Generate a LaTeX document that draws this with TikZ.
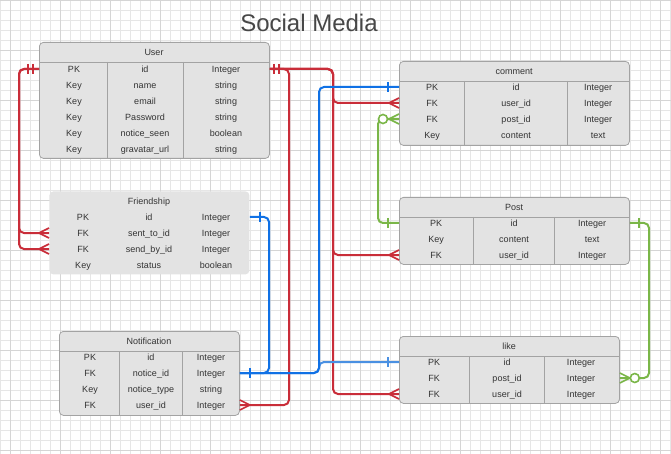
\documentclass[tikz,border=0pt]{standalone}
\usepackage{fontspec}
\setmainfont{Liberation Sans}
\usetikzlibrary{calc}
\definecolor{relred}{HTML}{C92D39}
\definecolor{relblue}{HTML}{1071E5}
\definecolor{rellight}{HTML}{4A90E2}
\definecolor{relgreen}{HTML}{7AB648}
\definecolor{tblfill}{HTML}{E3E3E3}
\definecolor{tblline}{HTML}{A3A3A3}
\definecolor{txt}{HTML}{333333}
\definecolor{gridminor}{HTML}{E6E6E6}
\definecolor{gridmajor}{HTML}{D5D5D5}

\tikzset{
  tbl/.style={draw=tblline, fill=tblfill, line width=0.8pt, rounded corners=4pt, anchor=north west, inner sep=0pt},
  sepline/.style={draw=tblline, line width=0.8pt},
  cell/.style={text=txt, font=\fontsize{9}{10}\selectfont, inner sep=0pt, text height=6.4pt, text depth=0pt},
  rel/.style={line width=2pt, rounded corners=5pt},
  many/.pic={\draw[line width=1.6pt] (-10,0) -- (0,-5) (-10,0) -- (0,5);},
  one/.pic={\draw[line width=1.6pt] (0,-5) -- (0,5);},
  zero/.pic={\draw[line width=1.6pt, fill=white] (0,0) circle (4.5pt);},
}

\begin{document}
\begin{tikzpicture}[x=1pt, y=-1pt]
    \useasboundingbox (0,0) rectangle (671,454);
    \fill[white] (0,0) rectangle (671,454);

    % background grid
    \foreach \gx in {0,10,...,670} \draw[gridminor, line width=0.6pt] (\gx,0) -- (\gx,454);
    \foreach \gy in {0,10,...,450} \draw[gridminor, line width=0.6pt] (0,\gy) -- (671,\gy);
    \foreach \gx in {10,60,...,660} \draw[gridmajor, line width=0.6pt] (\gx,0) -- (\gx,454);
    \foreach \gy in {0,50,...,450} \draw[gridmajor, line width=0.6pt] (0,\gy) -- (671,\gy);

    % title
    \node[font=\fontsize{24}{28}\selectfont, text=txt!90] (title) at (309,23) {Social Media};

    % User table
    \node[tbl, minimum width=230pt, minimum height=116pt] (user) at (39,42) {};
    \node[cell] (user-head) at (154,52) {User};
    \draw[sepline] (39,62) -- (269,62);
    \draw[sepline] (107,62) -- (107,158) (183,62) -- (183,158);
    \foreach \k/\n/\t [count=\i] in {PK/id/Integer, Key/name/string, Key/email/string,
        Key/Password/string, Key/notice\_seen/boolean, Key/gravatar\_url/string}{
        \node[cell] (user-k\i) at (74,{53+16*\i}) {\k};
        \node[cell] (user-n\i) at (145,{53+16*\i}) {\n};
        \node[cell] (user-t\i) at (226,{53+16*\i}) {\t};
    }

    % Friendship table
    \node[tbl, draw=none, minimum width=200pt, minimum height=83pt] (friend) at (49,191) {};
    \node[cell] (friend-head) at (149,201) {Friendship};
    \foreach \k/\n/\t [count=\i] in {PK/id/Integer, FK/sent\_to\_id/Integer,
        FK/send\_by\_id/Integer, Key/status/boolean}{
        \node[cell] (friend-k\i) at (83,{201+16*\i}) {\k};
        \node[cell] (friend-n\i) at (149,{201+16*\i}) {\n};
        \node[cell] (friend-t\i) at (216,{201+16*\i}) {\t};
    }

    % Notification table
    \node[tbl, minimum width=180pt, minimum height=84pt] (notice) at (59,331) {};
    \node[cell] (notice-head) at (149,341) {Notification};
    \draw[sepline] (59,351) -- (239,351);
    \draw[sepline] (119,351) -- (119,415) (182,351) -- (182,415);
    \foreach \k/\n/\t [count=\i] in {PK/id/Integer, FK/notice\_id/Integer,
        Key/notice\_type/string, FK/user\_id/Integer}{
        \node[cell] (notice-k\i) at (90,{341+16*\i}) {\k};
        \node[cell] (notice-n\i) at (151,{341+16*\i}) {\n};
        \node[cell] (notice-t\i) at (211,{341+16*\i}) {\t};
    }

    % comment table
    \node[tbl, minimum width=230pt, minimum height=84pt] (comment) at (399,61) {};
    \node[cell] (comment-head) at (514,71) {comment};
    \draw[sepline] (399,81) -- (629,81);
    \draw[sepline] (464,81) -- (464,145) (567,81) -- (567,145);
    \foreach \k/\n/\t [count=\i] in {PK/id/Integer, FK/user\_id/Integer,
        FK/post\_id/Integer, Key/content/text}{
        \node[cell] (comment-k\i) at (432,{71+16*\i}) {\k};
        \node[cell] (comment-n\i) at (516,{71+16*\i}) {\n};
        \node[cell] (comment-t\i) at (598,{71+16*\i}) {\t};
    }

    % Post table
    \node[tbl, minimum width=230pt, minimum height=67pt] (post) at (399,197) {};
    \node[cell] (post-head) at (514,207) {Post};
    \draw[sepline] (399,217) -- (629,217);
    \draw[sepline] (473,217) -- (473,264) (554,217) -- (554,264);
    \foreach \k/\n/\t [count=\i] in {PK/id/Integer, Key/content/text, FK/user\_id/Integer}{
        \node[cell] (post-k\i) at (436,{207+16*\i}) {\k};
        \node[cell] (post-n\i) at (514,{207+16*\i}) {\n};
        \node[cell] (post-t\i) at (592,{207+16*\i}) {\t};
    }

    % like table
    \node[tbl, minimum width=220pt, minimum height=67pt] (like) at (399,336) {};
    \node[cell] (like-head) at (509,346) {like};
    \draw[sepline] (399,356) -- (619,356);
    \draw[sepline] (469,356) -- (469,403) (544,356) -- (544,403);
    \foreach \k/\n/\t [count=\i] in {PK/id/Integer, FK/post\_id/Integer, FK/user\_id/Integer}{
        \node[cell] (like-k\i) at (434,{346+16*\i}) {\k};
        \node[cell] (like-n\i) at (507,{346+16*\i}) {\n};
        \node[cell] (like-t\i) at (581,{346+16*\i}) {\t};
    }

    % ports on the table edges
    \coordinate (uL) at (user.west |- user-k1);
    \coordinate (uR) at (user.east |- user-k1);
    \coordinate (fI) at (friend.east |- friend-k1);
    \coordinate (fS) at (friend.west |- friend-k2);
    \coordinate (fB) at (friend.west |- friend-k3);
    \coordinate (nN) at (notice.east |- notice-k2);
    \coordinate (nU) at (notice.east |- notice-k4);
    \coordinate (cI) at (comment.west |- comment-k1);
    \coordinate (cU) at (comment.west |- comment-k2);
    \coordinate (cP) at (comment.west |- comment-k3);
    \coordinate (pIw) at (post.west |- post-k1);
    \coordinate (pIe) at (post.east |- post-k1);
    \coordinate (pU) at (post.west |- post-k3);
    \coordinate (lI) at (like.west |- like-k1);
    \coordinate (lP) at (like.east |- like-k2);
    \coordinate (lU) at (like.west |- like-k3);

    % trunk lines
    \coordinate (xl) at (19,0);
    \coordinate (xa) at (289,0);
    \coordinate (xb) at (333,0);
    \coordinate (xc) at (269,0);
    \coordinate (xd) at (319,0);
    \coordinate (xe) at (378,0);
    \coordinate (xf) at (649,0);

    % User relations
    \draw[rel, relred] (uL) -- (xl |- uL) -- (xl |- fS) -- (fS);
    \draw[rel, relred] (uL) -- (xl |- uL) -- (xl |- fB) -- (fB);
    \draw[rel, relred] (uR) -- (xa |- uR) -- (xa |- nU) -- (nU);
    \draw[rel, relred] (uR) -- (xb |- uR) -- (xb |- lU) -- (lU);
    \draw[rel, relred] (uR) -- (xb |- uR) -- (xb |- pU) -- (pU);
    \draw[rel, relred] (uR) -- (xb |- uR) -- (xb |- cU) -- (cU);
    \pic[color=relred] at ($(uL)+(-6,0)$) {one};
    \pic[color=relred] at ($(uL)+(-11,0)$) {one};
    \pic[color=relred] at ($(uR)+(4,0)$) {one};
    \pic[color=relred] at ($(uR)+(9,0)$) {one};
    \pic[color=relred] at (fS) {many};
    \pic[color=relred] at (fB) {many};
    \pic[color=relred, xscale=-1] at (nU) {many};
    \pic[color=relred] at (cU) {many};
    \pic[color=relred] at (pU) {many};
    \pic[color=relred] at (lU) {many};

    % notice_id relations
    \draw[rel, rellight] (lI) -- (xd |- lI) -- (xd |- nN) -- (nN);
    \draw[rel, relblue] (cI) -- (xd |- cI) -- (xd |- nN) -- (nN);
    \draw[rel, relblue] (fI) -- (xc |- fI) -- (xc |- nN) -- (nN);
    \pic[color=relblue] at ($(fI)+(10,0)$) {one};
    \pic[color=relblue] at ($(nN)+(10,0)$) {one};
    \pic[color=relblue] at ($(cI)+(-11,0)$) {one};
    \pic[color=rellight] at ($(lI)+(-11,0)$) {one};

    % Post relations
    \draw[rel, relgreen] (pIw) -- (xe |- pIw) -- (xe |- cP) -- (cP);
    \draw[rel, relgreen] (pIe) -- (xf |- pIe) -- (xf |- lP) -- (lP);
    \pic[color=relgreen] at ($(pIw)+(-11,0)$) {one};
    \pic[color=relgreen] at ($(pIe)+(9,0)$) {one};
    \pic[color=relgreen] at ($(cP)+(-16,0)$) {zero};
    \pic[color=relgreen] at (cP) {many};
    \pic[color=relgreen] at ($(lP)+(15,0)$) {zero};
    \pic[color=relgreen, xscale=-1] at (lP) {many};
\end{tikzpicture}
\end{document}
